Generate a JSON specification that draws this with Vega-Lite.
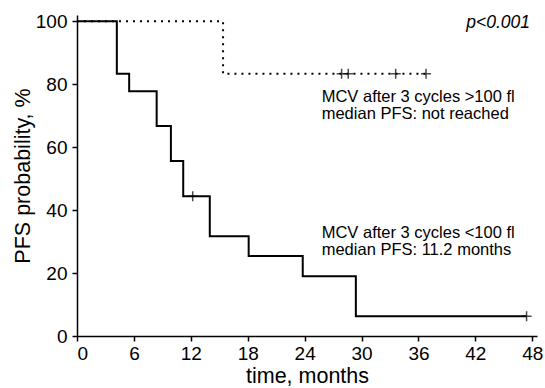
{
  "$schema": "https://vega.github.io/schema/vega-lite/v6.json",
  "width": 460,
  "height": 321,
  "autosize": {"type": "none"},
  "padding": {"left": 77, "top": 15, "right": 8, "bottom": 52},
  "background": "white",
  "config": {
    "view": {"stroke": null},
    "font": "Liberation Sans",
    "axis": {
      "domainColor": "black",
      "domainWidth": 1.5,
      "tickColor": "black",
      "tickWidth": 1.5,
      "tickSize": 5,
      "grid": false,
      "labelColor": "black",
      "titleColor": "black",
      "labelFont": "Liberation Sans",
      "titleFont": "Liberation Sans",
      "labelFontSize": 19,
      "titleFontSize": 21.5,
      "titleFontWeight": "normal"
    }
  },
  "datasets": {
    "curves": [
      {"group": "high", "t": 0, "s": 100},
      {"group": "high", "t": 15.4, "s": 83.3},
      {"group": "high", "t": 36.8, "s": 83.3},
      {"group": "low", "t": 0, "s": 100},
      {"group": "low", "t": 4.2, "s": 83.3},
      {"group": "low", "t": 5.5, "s": 77.8},
      {"group": "low", "t": 8.4, "s": 66.7},
      {"group": "low", "t": 9.9, "s": 55.6},
      {"group": "low", "t": 11.2, "s": 44.4},
      {"group": "low", "t": 14.0, "s": 31.7},
      {"group": "low", "t": 18.1, "s": 25.4},
      {"group": "low", "t": 23.8, "s": 19.0},
      {"group": "low", "t": 29.4, "s": 6.3},
      {"group": "low", "t": 47.4, "s": 6.3}
    ],
    "censored": [
      {"group": "high", "t": 27.9, "s": 83.3},
      {"group": "high", "t": 28.6, "s": 83.3},
      {"group": "high", "t": 33.6, "s": 83.3},
      {"group": "high", "t": 36.8, "s": 83.3},
      {"group": "low", "t": 12.2, "s": 44.4},
      {"group": "low", "t": 47.4, "s": 6.3}
    ],
    "notes": [
      {"t": 25.8, "s": 74.3, "label": "MCV after 3 cycles >100 fl"},
      {"t": 25.8, "s": 68.9, "label": "median PFS: not reached"},
      {"t": 25.8, "s": 31.2, "label": "MCV after 3 cycles <100 fl"},
      {"t": 25.8, "s": 25.8, "label": "median PFS: 11.2 months"}
    ],
    "pvalue": [
      {"t": 47.76, "s": 97.9, "label": "p<0.001"}
    ]
  },
  "encoding": {
    "x": {
      "field": "t", "type": "quantitative",
      "scale": {"domain": [0, 48.5], "nice": false, "zero": false},
      "axis": {"values": [0, 6, 12, 18, 24, 30, 36, 42, 48], "title": "time, months", "titleFontWeight": "normal", "labelPadding": 3, "titlePadding": 2}
    },
    "y": {
      "field": "s", "type": "quantitative",
      "scale": {"domain": [0, 102], "nice": false},
      "axis": {"values": [0, 20, 40, 60, 80, 100], "title": "PFS probability, %", "titleFontWeight": "normal", "labelPadding": 5, "titlePadding": 1}
    }
  },
  "layer": [
    {
      "data": {"name": "curves"},
      "mark": {"type": "line", "interpolate": "step-after", "color": "black", "strokeWidth": 2},
      "encoding": {
        "detail": {"field": "group"},
        "strokeDash": {
          "field": "group", "type": "nominal",
          "scale": {"domain": ["high", "low"], "range": [[2, 5], [1, 0]]},
          "legend": null
        }
      }
    },
    {
      "data": {"name": "censored"},
      "mark": {"type": "point", "shape": "M-1,0L1,0M0,-1L0,1", "filled": false, "stroke": "black", "strokeWidth": 1.5, "size": 100}
    },
    {
      "data": {"name": "notes"},
      "mark": {"type": "text", "align": "left", "baseline": "alphabetic", "fontSize": 16.5, "color": "black", "font": "Liberation Sans"},
      "encoding": {
        "text": {"field": "label"}
      }
    },
    {
      "data": {"name": "pvalue"},
      "mark": {"type": "text", "align": "right", "baseline": "alphabetic", "fontSize": 17.5, "fontStyle": "italic", "color": "black", "font": "Liberation Sans"},
      "encoding": {
        "text": {"field": "label"}
      }
    }
  ]
}
